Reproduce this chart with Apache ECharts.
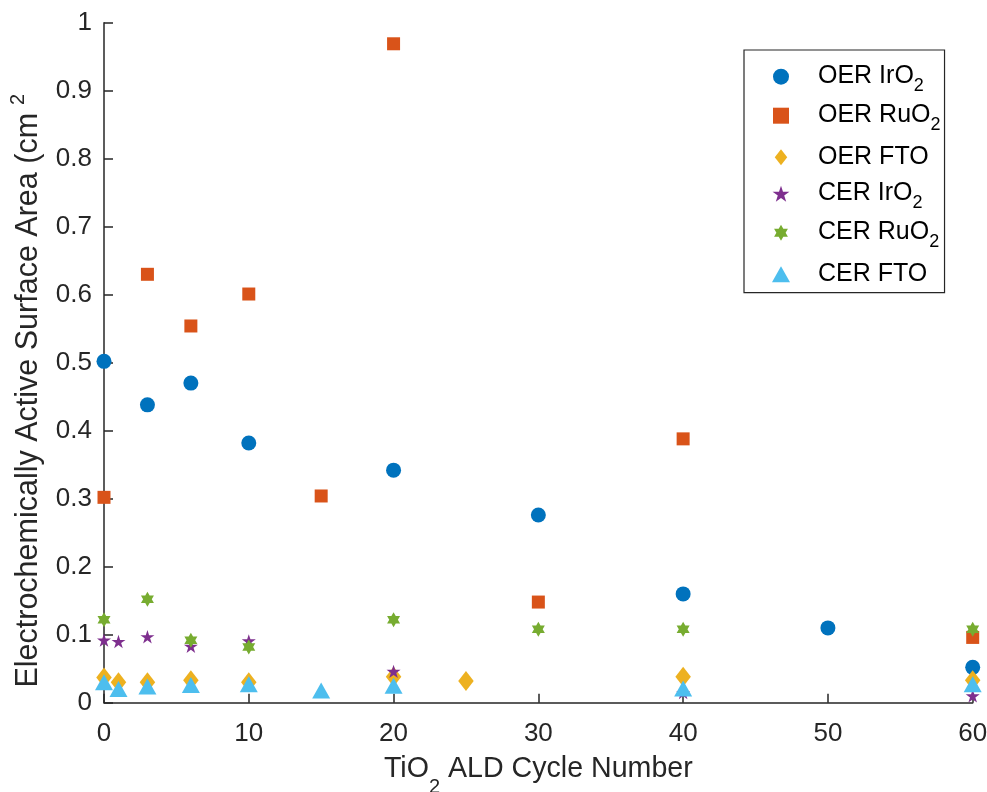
<!DOCTYPE html>
<html>
<head>
<meta charset="utf-8">
<title>ECSA vs TiO2 ALD cycles</title>
<script src="https://cdn.jsdelivr.net/npm/echarts@6/dist/echarts.min.js"></script>
<style>
  html, body { margin: 0; padding: 0; background: #ffffff; }
  #chart { width: 987px; height: 792px; }
</style>
</head>
<body>
<div id="chart"></div>
<script>
// Electrochemically active surface area (cm^2) against TiO2 ALD cycle number
const seriesNames = ['OER IrO2', 'OER RuO2', 'OER FTO', 'CER IrO2', 'CER RuO2', 'CER FTO'];

const oerIrO2Cycles = [0, 3, 6, 10, 20, 30, 40, 50, 60];
const oerIrO2Area   = [0.502, 0.438, 0.470, 0.382, 0.342, 0.276, 0.160, 0.110, 0.052];

const oerRuO2Cycles = [0, 3, 6, 10, 15, 20, 30, 40, 60];
const oerRuO2Area   = [0.302, 0.630, 0.554, 0.601, 0.304, 0.969, 0.148, 0.388, 0.096];

const oerFTOCycles  = [0, 1, 3, 6, 10, 20, 25, 40, 60];
const oerFTOArea    = [0.037, 0.030, 0.030, 0.033, 0.030, 0.038, 0.032, 0.038, 0.033];

const cerIrO2Cycles = [0, 1, 3, 6, 10, 20, 40, 60];
const cerIrO2Area   = [0.092, 0.090, 0.097, 0.083, 0.091, 0.046, 0.015, 0.010];

const cerRuO2Cycles = [0, 3, 6, 10, 20, 30, 40, 60];
const cerRuO2Area   = [0.122, 0.152, 0.092, 0.082, 0.122, 0.108, 0.108, 0.108];

const cerFTOCycles  = [0, 1, 3, 6, 10, 15, 20, 40, 60];
const cerFTOArea    = [0.030, 0.020, 0.024, 0.026, 0.027, 0.018, 0.025, 0.021, 0.027];

const xTicks = [0, 10, 20, 30, 40, 50, 60];
const yTicks = [0, 0.1, 0.2, 0.3, 0.4, 0.5, 0.6, 0.7, 0.8, 0.9, 1];

// marker outlines
const SQUARE = 'path://M-1,-1L1,-1L1,1L-1,1Z';
const PENTAGRAM = 'path://M0,-1L0.2245,-0.309L0.9511,-0.309L0.3633,0.118L0.5878,0.809L0,0.382L-0.5878,0.809L-0.3633,0.118L-0.9511,-0.309L-0.2245,-0.309Z';
const HEXAGRAM = 'path://M0,-1L0.2887,-0.5L0.866,-0.5L0.577,0L0.866,0.5L0.2887,0.5L0,1L-0.2887,0.5L-0.866,0.5L-0.577,0L-0.866,-0.5L-0.2887,-0.5Z';
const DIAMOND = 'path://M0,-1L0.78,0L0,1L-0.78,0Z';
const TRIANGLE = 'path://M0,-1L1.125,1L-1.125,1Z';

const FONT = '"Liberation Sans", Arial, Helvetica, sans-serif';
const INK = '#262626';

function pairs(xs, ys) { return xs.map((x, i) => [x, ys[i]]); }

const seriesDefs = [
  { name: seriesNames[0], data: pairs(oerIrO2Cycles, oerIrO2Area), color: '#0072BD', symbol: 'circle', size: 15 },
  { name: seriesNames[1], data: pairs(oerRuO2Cycles, oerRuO2Area), color: '#D95319', symbol: SQUARE, size: 13 },
  { name: seriesNames[2], data: pairs(oerFTOCycles, oerFTOArea), color: '#EDB120', symbol: DIAMOND, size: [15.5, 20] },
  { name: seriesNames[3], data: pairs(cerIrO2Cycles, cerIrO2Area), color: '#7E2F8E', symbol: PENTAGRAM, size: [14, 13.3] },
  { name: seriesNames[4], data: pairs(cerRuO2Cycles, cerRuO2Area), color: '#77AC30', symbol: HEXAGRAM, size: [13, 15] },
  { name: seriesNames[5], data: pairs(cerFTOCycles, cerFTOArea), color: '#4DBEEE', symbol: TRIANGLE, size: [18, 16] }
];

// "IrO2" -> rich text with the trailing digit as a subscript;
// every entry keeps the same two-token layout so the rows stay evenly spaced
function legendLabel(name) {
  const m = name.match(/^(.*?)(\d)$/);
  if (m) return '{n|' + m[1] + '}{s|' + m[2] + '}';
  return '{g|' + name + '}{s| }';
}

const chart = echarts.init(document.getElementById('chart'), null, { renderer: 'canvas' });

chart.setOption({
  animation: false,
  backgroundColor: '#ffffff',
  textStyle: { fontFamily: FONT, color: INK },
  grid: {
    left: 104, right: 14.3, top: 22.7, bottom: 89.3,
    containLabel: false,
    outerBoundsMode: 'none'
  },
  xAxis: {
    type: 'value',
    min: xTicks[0],
    max: xTicks[xTicks.length - 1],
    interval: xTicks[1] - xTicks[0],
    name: '{a|TiO}{b|2}{a| ALD Cycle Number}',
    nameLocation: 'middle',
    nameGap: 52,
    nameTextStyle: {
      rich: {
        a: { fontFamily: FONT, fontSize: 28.6, color: INK, lineHeight: 31, verticalAlign: 'top' },
        b: { fontFamily: FONT, fontSize: 20, color: INK, lineHeight: 20, padding: [22.6, 0, 0, 0], verticalAlign: 'top' }
      }
    },
    axisLine: { show: true, onZero: false, lineStyle: { color: INK, width: 1.5 } },
    axisTick: { show: true, inside: true, length: 9, lineStyle: { color: INK, width: 1.5 } },
    axisLabel: { fontFamily: FONT, fontSize: 26, color: INK, margin: 18 },
    splitLine: { show: false }
  },
  yAxis: {
    type: 'value',
    min: yTicks[0],
    max: yTicks[yTicks.length - 1],
    interval: 0.1,
    name: '{a|Electrochemically Active Surface Area (cm}{b|2}',
    nameLocation: 'middle',
    nameGap: 60,
    nameTextStyle: {
      padding: [0, 56, 0, 0],
      rich: {
        a: { fontFamily: FONT, fontSize: 30.5, color: INK, lineHeight: 36, verticalAlign: 'bottom' },
        b: { fontFamily: FONT, fontSize: 20, color: INK, lineHeight: 20, verticalAlign: 'top', padding: [0, 0, 0, 8] }
      }
    },
    axisLine: { show: true, onZero: false, lineStyle: { color: INK, width: 1.5 } },
    axisTick: { show: true, inside: true, length: 9, lineStyle: { color: INK, width: 1.5 } },
    axisLabel: {
      fontFamily: FONT, fontSize: 26, color: INK, margin: 12,
      formatter: v => String(Math.round(v * 10) / 10)
    },
    splitLine: { show: false }
  },
  legend: {
    orient: 'vertical',
    left: 744,
    top: 50,
    padding: [13.2, 4, 2.5, 28],
    itemGap: 7.0,
    itemWidth: 64,
    itemHeight: 16,
    borderColor: INK,
    borderWidth: 1.2,
    backgroundColor: '#ffffff',
    selectedMode: false,
    data: seriesNames,
    formatter: legendLabel,
    textStyle: {
      rich: {
        n: { fontFamily: FONT, fontSize: 25, color: '#000000', lineHeight: 27, verticalAlign: 'top' },
        s: { fontFamily: FONT, fontSize: 18, color: '#000000', lineHeight: 18, padding: [14, 0, 0, 0], verticalAlign: 'top' },
        g: { fontFamily: FONT, fontSize: 25, color: '#000000', lineHeight: 32 }
      }
    }
  },
  series: seriesDefs.map(s => ({
    type: 'scatter',
    name: s.name,
    data: s.data,
    symbol: s.symbol,
    symbolSize: s.size,
    itemStyle: { color: s.color, opacity: 1 },
    emphasis: { disabled: true }
  }))
});
</script>
</body>
</html>
